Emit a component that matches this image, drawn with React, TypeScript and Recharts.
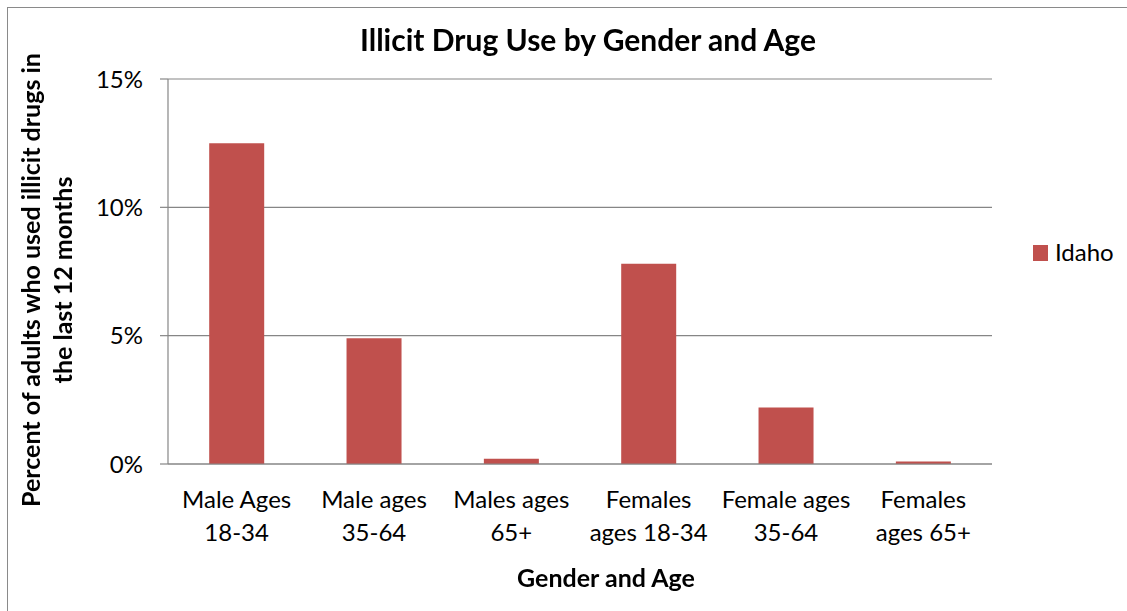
import { BarChart, Bar, XAxis, YAxis, CartesianGrid } from "recharts"

const categories = [
  "Male Ages\n18-34",
  "Male ages\n35-64",
  "Males ages\n65+",
  "Females\nages 18-34",
  "Female ages\n35-64",
  "Females\nages 65+",
]
const idaho = [12.5, 4.9, 0.2, 7.8, 2.2, 0.1]
const yTicks = [0, 5, 10, 15]
const seriesName = "Idaho"

const data = categories.map((c, i) => ({ name: c, Idaho: idaho[i] }))

const FONT = "Lato, 'Open Sans', sans-serif"
const GRID = "#868686"
const RED = "#C0504D"

function CatTick(props: any) {
  const { x, y, payload } = props
  const lines = String(payload.value).split("\n")
  return (
    <text x={x} y={y} textAnchor="middle" fontFamily={FONT} fontSize={24} fill="#000">
      {lines.map((l: string, i: number) => (
        <tspan key={i} x={x} dy={i === 0 ? 36 : 33}>
          {l}
        </tspan>
      ))}
    </text>
  )
}

export default function App() {
  return (
    <div style={{ position: "fixed", left: 0, top: 0, width: 1127, height: 611, background: "#fff", fontFamily: FONT }}>
      <div
        style={{
          position: "absolute",
          left: 7,
          top: 7,
          width: 1130,
          height: 620,
          borderTop: "1px solid #8a8a8a",
          borderLeft: "1px solid #8a8a8a",
        }}
      />
      <div style={{ position: "absolute", left: 0, top: 0 }}>
        <BarChart
          width={1127}
          height={611}
          data={data}
          margin={{ top: 79, right: 135, bottom: 67, left: 108 }}
          barCategoryGap="30%"
        >
          <CartesianGrid vertical={false} stroke={GRID} strokeWidth={1.2} />
          <XAxis
            dataKey="name"
            interval={0}
            height={80}
            tickLine={false}
            axisLine={{ stroke: GRID, strokeWidth: 1.2 }}
            tick={<CatTick />}
          />
          <YAxis
            width={60}
            domain={[0, 15]}
            ticks={yTicks}
            tickFormatter={(v: number) => `${v}%`}
            tickSize={8}
            tickMargin={17}
            tickLine={{ stroke: GRID, strokeWidth: 1.2 }}
            axisLine={{ stroke: GRID, strokeWidth: 1.2 }}
            tick={{ fontFamily: FONT, fontSize: 24, fill: "#000" }}
          />
          <Bar dataKey="Idaho" name={seriesName} fill={RED} isAnimationActive={false} />
        </BarChart>
      </div>
      {/* legend */}
      <div style={{ position: "absolute", left: 1033, top: 245, width: 15, height: 16, background: RED }} />
      <div style={{ position: "absolute", left: 1055, top: 237, fontSize: 24, lineHeight: "30px", color: "#000" }}>
        {seriesName}
      </div>
      <div
        style={{
          position: "absolute",
          left: 0,
          width: 1176,
          top: 21,
          textAlign: "center",
          fontWeight: "bold",
          fontSize: 30,
          lineHeight: "36px",
          color: "#000",
          whiteSpace: "nowrap",
        }}
      >
        Illicit Drug Use by Gender and Age
      </div>
      <div
        style={{
          position: "absolute",
          left: 0,
          width: 1212,
          top: 562,
          textAlign: "center",
          fontWeight: "bold",
          fontSize: 25,
          lineHeight: "30px",
          color: "#000",
          whiteSpace: "nowrap",
        }}
      >
        Gender and Age
      </div>
      <div
        style={{
          position: "absolute",
          left: 46,
          top: 280,
          width: 520,
          transform: "translate(-50%, -50%) rotate(-90deg)",
          textAlign: "center",
          fontWeight: "bold",
          fontSize: 25,
          lineHeight: "32px",
          color: "#000",
          whiteSpace: "nowrap",
        }}
      >
        Percent of adults who used illicit drugs in
        <br />
        the last 12 months
      </div>
    </div>
  )
}
